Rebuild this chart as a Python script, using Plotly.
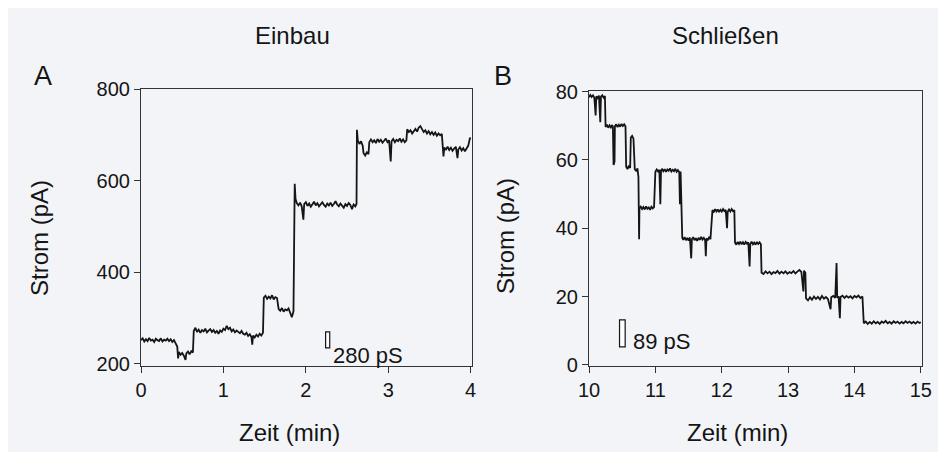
import plotly.graph_objects as go

# ---------------- data ----------------
# Panel A: "Einbau" current trace, time (min)
tA = [0.00, 0.02, 0.04, 0.06, 0.08, 0.10, 0.12, 0.14, 0.16, 0.18, 0.20, 0.22,
      0.24, 0.26, 0.28, 0.30, 0.32, 0.34, 0.36, 0.38, 0.40, 0.42,
      0.44, 0.45, 0.46, 0.48, 0.50, 0.52, 0.54, 0.55, 0.57, 0.59, 0.61, 0.63,
      0.64, 0.66, 0.68, 0.70, 0.72, 0.74, 0.76, 0.78, 0.80, 0.82, 0.84, 0.86,
      0.88, 0.90, 0.92, 0.94, 0.96, 0.98, 1.00, 1.02, 1.04, 1.06, 1.08, 1.10,
      1.12, 1.14, 1.16, 1.18, 1.20, 1.22, 1.24, 1.26, 1.28, 1.30, 1.32, 1.34,
      1.35, 1.36, 1.38, 1.40, 1.42, 1.44, 1.46, 1.48,
      1.49, 1.51, 1.53, 1.55, 1.57, 1.59, 1.61, 1.63, 1.65,
      1.67, 1.69, 1.71, 1.73, 1.75, 1.77, 1.79, 1.81, 1.83, 1.85,
      1.865, 1.875, 1.89, 1.91, 1.93, 1.95, 1.97, 1.98, 2.00, 2.02, 2.04, 2.06,
      2.08, 2.10, 2.12, 2.14, 2.16, 2.18, 2.20, 2.22, 2.24, 2.26, 2.28, 2.30,
      2.32, 2.34, 2.36, 2.38, 2.40, 2.42, 2.44, 2.46, 2.48, 2.50, 2.52, 2.54,
      2.56, 2.58, 2.60, 2.615,
      2.62, 2.63, 2.65, 2.67, 2.69, 2.70, 2.72, 2.74, 2.76, 2.77, 2.79, 2.81,
      2.83, 2.85, 2.87, 2.89, 2.91, 2.93, 2.95, 2.97, 2.99, 3.01, 3.03, 3.04,
      3.06, 3.08, 3.10, 3.12, 3.14, 3.16, 3.18, 3.20, 3.22,
      3.23, 3.25, 3.27, 3.29, 3.31, 3.33, 3.35, 3.37, 3.39, 3.41, 3.43, 3.45,
      3.47, 3.49, 3.51, 3.53, 3.55, 3.57, 3.59, 3.61, 3.63, 3.65,
      3.66, 3.67, 3.68, 3.70, 3.72, 3.74, 3.76, 3.78, 3.80, 3.82, 3.84, 3.85,
      3.87, 3.89, 3.91, 3.93, 3.95, 3.97, 3.99, 4.00]
# Panel A: current (pA)
iA = [252, 256, 249, 254, 250, 257, 251, 253, 248, 255, 252, 250,
      256, 249, 253, 251, 255, 250, 254, 248, 252, 246,
      238, 212, 226, 220, 224, 218, 209, 223, 227, 221, 228, 225,
      272, 279, 270, 275, 268, 274, 271, 277, 269, 273, 276, 270,
      274, 268, 272, 266, 273, 270, 277, 274, 283, 276, 279, 271,
      275, 269, 273, 270, 267, 272, 266, 264, 268, 261, 265, 259,
      242, 262, 258, 264, 260, 266, 262, 268,
      345, 349, 342, 347, 343, 350, 341, 346, 344,
      320, 316, 322, 314, 319, 317, 321, 312, 302, 315,
      593, 560, 551, 546, 552, 544, 515, 549, 553, 545, 550, 543,
      548, 554, 546, 551, 544, 549, 553, 547, 543, 550, 546, 552,
      545, 549, 555, 548, 544, 550, 546, 541, 549, 545, 551, 547,
      538, 548, 544, 549,
      711, 688, 680, 686, 676, 660, 655, 662, 658, 684, 690, 684,
      688, 682, 691, 685, 689, 683, 687, 692, 684, 688, 642, 686,
      691, 684, 689, 686, 692, 685, 690, 684, 688,
      712, 706, 710, 703, 708, 713, 707, 716, 719, 711, 706, 710,
      703, 708, 701, 706, 700, 705, 698, 703, 699, 702,
      676, 653, 672, 668, 674, 667, 672, 665, 670, 674, 649, 668,
      673, 666, 671, 664, 670, 676, 692, 694]

# Panel B: "Schließen" current trace, time (min)
tB = [10.00, 10.02, 10.04, 10.06, 10.08, 10.10, 10.11, 10.13, 10.15, 10.17,
      10.18, 10.20, 10.22, 10.24,
      10.25, 10.27, 10.29, 10.31, 10.33, 10.35, 10.36, 10.37, 10.385, 10.39,
      10.41, 10.43, 10.45, 10.47, 10.49, 10.51, 10.53, 10.55,
      10.56, 10.58, 10.60, 10.62, 10.63, 10.65, 10.67, 10.69, 10.71, 10.73,
      10.745, 10.755, 10.76,
      10.78, 10.80, 10.82, 10.84, 10.86, 10.88, 10.90, 10.92, 10.94, 10.96, 10.98,
      11.00, 11.02, 11.04, 11.06, 11.075, 11.085, 11.10, 11.12, 11.14, 11.16,
      11.18, 11.20, 11.22, 11.24, 11.26, 11.28, 11.30, 11.32, 11.34, 11.36,
      11.37, 11.38, 11.39, 11.405,
      11.42, 11.44, 11.46, 11.48, 11.50, 11.52, 11.54, 11.55, 11.57, 11.59,
      11.61, 11.63, 11.65, 11.67, 11.69, 11.71, 11.73, 11.75, 11.76, 11.77,
      11.79, 11.81, 11.83, 11.85,
      11.86, 11.88, 11.90, 11.92, 11.94, 11.96, 11.98, 12.00, 12.02, 12.04,
      12.06, 12.08, 12.09, 12.11, 12.13, 12.15, 12.17, 12.19,
      12.20, 12.22, 12.24, 12.26, 12.28, 12.30, 12.32, 12.34, 12.36, 12.38,
      12.40, 12.42, 12.43, 12.45, 12.47, 12.49, 12.51, 12.53, 12.55, 12.57, 12.59,
      12.60, 12.63, 12.66, 12.69, 12.72, 12.75, 12.78, 12.81, 12.84, 12.87,
      12.90, 12.93, 12.96, 12.99, 13.02, 13.05, 13.08, 13.11, 13.14, 13.17,
      13.20, 13.23, 13.24, 13.26,
      13.27, 13.30, 13.33, 13.36, 13.39, 13.42, 13.45, 13.48, 13.51, 13.54,
      13.57, 13.60, 13.64, 13.65, 13.68, 13.71, 13.73, 13.74, 13.76, 13.78,
      13.79, 13.82, 13.85, 13.88, 13.91, 13.94, 13.97, 14.00, 14.03, 14.06,
      14.09, 14.12,
      14.14, 14.17, 14.20, 14.23, 14.26, 14.29, 14.32, 14.35, 14.38, 14.41,
      14.44, 14.47, 14.50, 14.53, 14.56, 14.59, 14.62, 14.65, 14.68, 14.71,
      14.74, 14.77, 14.80, 14.83, 14.86, 14.89, 14.92, 14.95, 14.98, 15.00]
# Panel B: current (pA)
iB = [78.3, 79.0, 78.4, 78.9, 78.2, 73.0, 78.6, 78.1, 78.8, 71.0,
      78.5, 78.9, 78.2, 78.7,
      69.6, 70.3, 69.4, 70.1, 69.5, 70.2, 69.7, 58.5, 59.5, 69.8,
      70.4, 69.6, 70.3, 69.7, 70.5, 69.9, 70.4, 69.8,
      58.0, 57.3, 58.3, 57.6, 66.5, 67.0, 66.2, 57.2, 56.8, 57.5,
      55.0, 36.8, 45.8,
      46.3, 45.6, 46.2, 45.5, 46.4, 45.7, 46.1, 45.4, 46.3, 45.8, 46.2,
      56.5, 57.2, 56.6, 57.1, 47.0, 56.8, 57.4, 56.7, 57.3, 56.5,
      57.2, 56.8, 57.5, 56.6, 57.1, 56.7, 57.4, 56.5, 57.0, 56.4,
      47.0, 56.6, 46.5, 37.2,
      36.6, 37.4, 36.5, 37.2, 36.4, 37.3, 31.2, 36.8, 37.4, 36.5,
      37.1, 36.3, 37.2, 36.6, 37.5, 36.7, 37.2, 36.5, 31.8, 37.0,
      36.6, 37.3, 36.8, 41.5,
      45.3, 44.8, 45.6, 44.9, 45.5, 44.7, 45.4, 44.9, 45.6, 45.0,
      45.4, 40.0, 44.8, 45.5, 44.9, 45.6, 45.0, 45.3,
      35.8, 35.2, 36.0, 35.4, 36.1, 35.3, 35.9, 35.2, 36.0, 35.5,
      35.9, 28.8, 35.4, 36.1, 35.3, 35.8, 35.2, 36.0, 35.4, 35.9, 35.3,
      27.0, 26.6, 27.4, 26.8, 27.3, 26.6, 27.2, 26.9, 27.5, 26.7,
      27.3, 26.8, 27.4, 26.7, 27.2, 26.9, 27.5, 26.8, 27.3, 27.8,
      27.2, 21.5, 27.6, 27.0,
      19.5, 18.9, 19.8, 19.1, 20.0, 19.3, 19.9, 19.2, 20.2, 19.4,
      19.9, 19.3, 16.3, 19.8, 20.2, 19.6, 29.8, 19.7, 20.1, 13.7,
      19.9, 20.3, 19.6, 20.2, 19.7, 20.1, 19.5, 20.2, 19.8, 20.3,
      19.6, 20.0,
      12.2, 12.7, 12.0, 12.6, 12.1, 12.8, 12.2, 12.6, 12.0, 12.7,
      12.3, 12.9, 12.2, 12.6, 12.1, 12.8, 12.3, 12.7, 12.1, 12.6,
      12.2, 12.8, 12.3, 12.7, 12.2, 12.6, 12.1, 12.7, 12.3, 12.5]

ticksA_x = [0, 1, 2, 3, 4]
ticksA_y = [200, 400, 600, 800]
ticksB_x = [10, 11, 12, 13, 14, 15]
ticksB_y = [0, 20, 40, 60, 80]

# scale bars (conductance calibration): x position, y bottom, y top, label
barA = dict(x0=2.24, x1=2.29, y0=235, y1=270, label="280 pS", lx=2.31, ly=219)
barB = dict(x0=10.46, x1=10.545, y0=5.3, y1=13.2, label="89 pS", lx=10.63, ly=6.9)

# ---------------- figure ----------------
W, H = 946, 452
OFF = 8  # page body offset of the plot div
FONT = "Liberation Sans, Arial, Helvetica, sans-serif"
INK = "#151515"
BG = "#f3f4f8"

def px(x):
    return (x - OFF) / W

def py(y):
    return 1 - (y - OFF) / H

fig = go.Figure()
fig.add_trace(go.Scatter(x=tA, y=iA, mode="lines", line=dict(color=INK, width=1.8),
                         xaxis="x", yaxis="y", showlegend=False, hoverinfo="skip"))
fig.add_trace(go.Scatter(x=tB, y=iB, mode="lines", line=dict(color=INK, width=1.8),
                         xaxis="x2", yaxis="y2", showlegend=False, hoverinfo="skip"))

axis_common = dict(showgrid=False, zeroline=False, showline=True, linecolor="#333333",
                   linewidth=1.2, mirror=True, ticks="outside", ticklen=6, tickwidth=1.2,
                   tickcolor="#333333", automargin=False,
                   tickfont=dict(family=FONT, size=20, color=INK))

fig.update_layout(
    width=W, height=H,
    margin=dict(l=0, r=0, t=0, b=0, autoexpand=False),
    paper_bgcolor=BG, plot_bgcolor=BG,
    showlegend=False,
    xaxis=dict(domain=[px(141), px(471.5)], range=[0, 4.01], tickvals=ticksA_x,
               anchor="y", **axis_common),
    yaxis=dict(domain=[py(366), py(89)], range=[195.6, 800], tickvals=ticksA_y,
               anchor="x", **axis_common),
    xaxis2=dict(domain=[px(589), px(921.5)], range=[10, 15.01], tickvals=ticksB_x,
                anchor="y2", **axis_common),
    yaxis2=dict(domain=[py(366), py(90.5)], range=[-0.3, 80.3], tickvals=ticksB_y,
                anchor="x2", **axis_common),
)

for bar, xr, yr in [(barA, "x", "y"), (barB, "x2", "y2")]:
    fig.add_shape(type="rect", xref=xr, yref=yr, x0=bar["x0"], x1=bar["x1"],
                  y0=bar["y0"], y1=bar["y1"], line=dict(color=INK, width=1.2),
                  fillcolor="white")
    fig.add_annotation(xref=xr, yref=yr, x=bar["lx"], y=bar["ly"], text=bar["label"],
                       showarrow=False, xanchor="left", yanchor="middle",
                       font=dict(family=FONT, size=22, color=INK))

texts = [
    ("Einbau", 292, 36, 24, 0),
    ("Schließen", 725, 36, 24, 0),
    ("A", 43, 76, 27, 0),
    ("B", 503, 76, 27, 0),
    ("Zeit (min)", 289, 432, 24, 0),
    ("Zeit (min)", 737, 432, 24, 0),
    ("Strom (pA)", 39, 238, 24, -90),
    ("Strom (pA)", 505, 236, 24, -90),
]
for t, x, y, s, ang in texts:
    fig.add_annotation(xref="paper", yref="paper", x=px(x), y=py(y), text=t,
                       showarrow=False, xanchor="center", yanchor="middle", textangle=ang,
                       font=dict(family=FONT, size=s, color=INK))

fig.write_html("out.html")
